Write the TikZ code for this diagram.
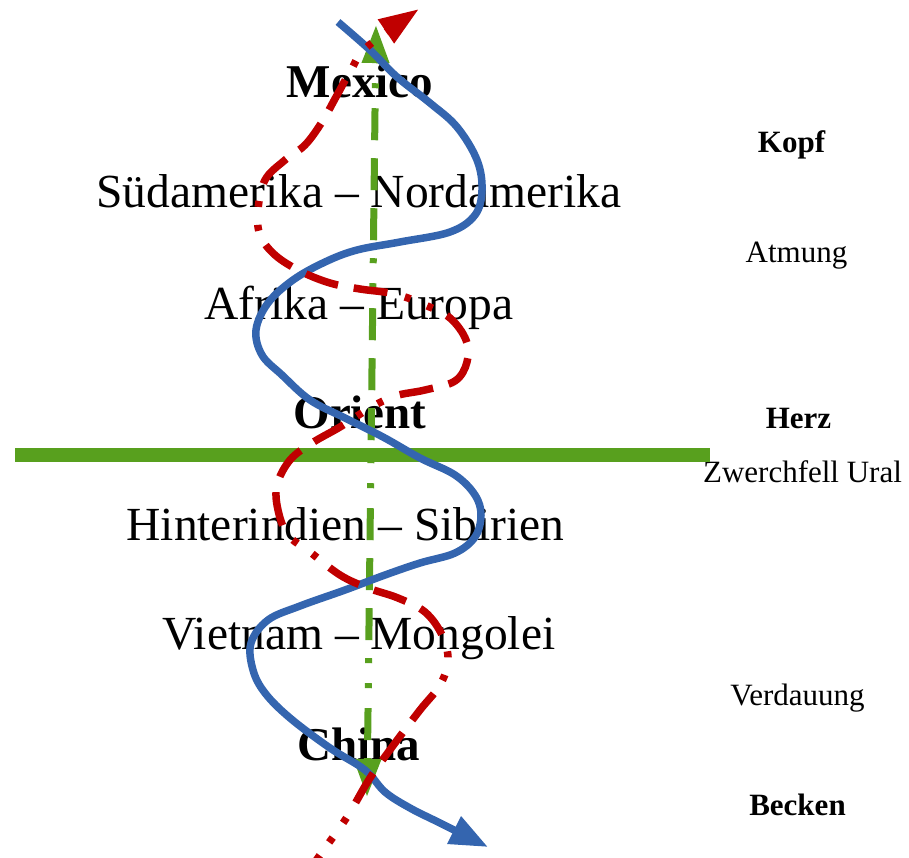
\documentclass[tikz,border=0pt]{standalone}
\usepackage{fontspec}
\setmainfont{Liberation Serif}
\usetikzlibrary{arrows.meta}
\definecolor{rd}{RGB}{192,0,0}
\definecolor{bl}{RGB}{52,101,175}
\definecolor{gr}{RGB}{88,160,30}
\begin{document}
\begin{tikzpicture}[x=1pt,y=-1pt,
  big/.style={inner sep=0pt, anchor=base, font=\fontsize{47.5}{56}\selectfont},
  bigb/.style={inner sep=0pt, anchor=base, font=\fontsize{47}{56}\selectfont\bfseries},
  side/.style={inner sep=0pt, anchor=base, font=\fontsize{31}{37}\selectfont},
  sideb/.style={inner sep=0pt, anchor=base, font=\fontsize{31}{37}\selectfont\bfseries},
  barline/.style={draw=gr, line width=14pt},
  axisline/.style={draw=gr, line width=7pt,
    dash pattern=on 32pt off 18pt on 32pt off 18pt on 32pt off 18pt on 5pt off 20pt on 5pt off 20pt,
    dash phase=153pt},
  blueline/.style={draw=bl, line width=7.5pt},
  redline/.style={draw=rd, line width=7.5pt,
    dash pattern=on 34pt off 16pt on 34pt off 16pt on 34pt off 16pt on 6pt off 18pt on 6pt off 18pt,
    dash phase=100pt}
]
\useasboundingbox (0,0) rectangle (909,858);

% left column of regions
\node[bigb] (mexico)  at (360,98)  {Mexico};
\node[big]  (sued)    at (359,208) {Südamerika – Nordamerika};
\node[big]  (afrika)  at (359,319) {Afrika – Europa};
\node[bigb] (orient)  at (360,428) {Orient};
\node[big]  (hinter)  at (345.5,540) {Hinterindien – Sibirien};
\node[big]  (vietnam) at (359,649) {Vietnam – Mongolei};
\node[bigb] (china)   at (358.5,760) {China};

% right column
\node[sideb] (kopf)      at (791.5,153) {Kopf};
\node[side]  (atmung)    at (796.5,263) {Atmung};
\node[sideb] (herz)      at (798.5,428) {Herz};
\node[side]  (zwerch)    at (802.5,482) {Zwerchfell Ural};
\node[side]  (verdauung) at (797.5,705) {Verdauung};
\node[sideb] (becken)    at (797.5,815) {Becken};

% horizontal bar (diaphragm)
\coordinate (barL) at (15,455);
\coordinate (barR) at (710,455);
\draw[barline] (barL) -- (barR);

% vertical axis with two arrow heads
\coordinate (gtop) at (376,25);
\coordinate (gbot) at (367,797);
\draw[axisline, {Triangle[length=38pt,width=26pt]}-{Triangle[length=38pt,width=26pt]}] (gtop) -- (gbot);

% blue solid serpent
\draw[blueline, -{Triangle[length=38pt,width=29pt]}] plot[smooth, tension=0.6] coordinates {
  (338,22) (370,50) (397,77) (430,103) (457,127) (477,160) (482,190) (475,215)
  (450,232) (400,242) (357,250) (325,262) (293,280) (268,303) (256,330) (262,355)
  (282,375) (310,400) (345,418) (383,437) (420,458) (455,475) (475,495) (481,515)
  (475,537) (455,553) (420,563) (385,575) (345,590) (300,606) (268,620) (251,643)
  (253,670) (265,693) (290,718) (330,748) (365,770) (385,792) (410,808) (440,823) (488,847)};

% red dashed serpent
\draw[redline, -{Triangle[length=40pt,width=27pt]}] plot[smooth, tension=0.6] coordinates {
  (300,883) (320,855) (347,817) (370,778) (395,743) (420,710) (440,685) (448,660)
  (442,635) (425,612) (398,598) (368,588) (340,575) (310,552) (288,535) (278,510)
  (277,485) (290,460) (312,443) (340,427) (370,408) (395,396) (425,390) (455,381)
  (467,362) (466,340) (450,318) (425,305) (395,294) (360,289) (330,283) (300,271)
  (275,255) (260,235) (258,210) (265,180) (285,160) (305,145) (322,122) (336,97)
  (350,72) (367,47) (419,9)};
\end{tikzpicture}
\end{document}
